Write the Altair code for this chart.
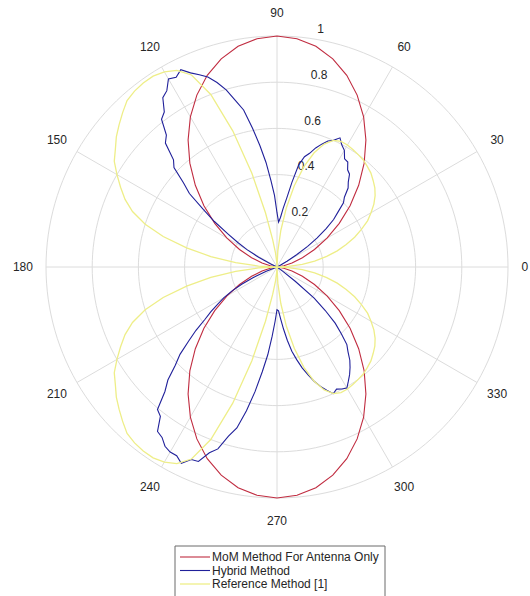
import numpy as np
import pandas as pd
import altair as alt

# ---------------- series values (angle in degrees, normalised radius) ----------------
# MoM method (antenna only): upper half 0..180 deg, lower half is its mirror image
MOM_ANGLES = list(range(0, 181, 5))
MOM_R = [0.000, 0.008, 0.030, 0.067, 0.117, 0.179, 0.250, 0.329, 0.413, 0.500,
         0.587, 0.671, 0.750, 0.821, 0.883, 0.933, 0.970, 0.992, 1.000,
         0.992, 0.970, 0.933, 0.883, 0.821, 0.750, 0.671, 0.587, 0.500,
         0.413, 0.329, 0.250, 0.179, 0.117, 0.067, 0.030, 0.008, 0.000]

# Reference method [1]: upper half 0..180 deg, mirrored for the lower half
REF_ANGLES = list(range(0, 181, 3))
REF_R = [0.000, 0.050, 0.110, 0.165, 0.220, 0.270, 0.315, 0.360, 0.400, 0.440,
         0.470, 0.500, 0.525, 0.545, 0.560, 0.575, 0.585, 0.595, 0.600, 0.605,
         0.610, 0.610, 0.600, 0.570, 0.520, 0.450, 0.360, 0.260, 0.160, 0.070,
         0.000, 0.020, 0.060, 0.120, 0.240, 0.420, 0.620, 0.800, 0.910, 0.955,
         0.975, 0.985, 0.985, 0.980, 0.970, 0.945, 0.920, 0.895, 0.865, 0.840,
         0.800, 0.760, 0.720, 0.670, 0.600, 0.510, 0.400, 0.290, 0.180, 0.080,
         0.000]

# Hybrid method: full turn, every 2 deg
HYB_ANGLES = list(range(0, 360, 2))
HYB_R = [
    # 0 .. 26
    0.000, 0.000, 0.000, 0.000, 0.000, 0.000, 0.000, 0.000, 0.000, 0.000, 0.000, 0.000, 0.000, 0.005,
    # 28 .. 88
    0.020, 0.050, 0.100, 0.160, 0.215, 0.270, 0.320, 0.355, 0.400, 0.420, 0.460, 0.480, 0.510, 0.520,
    0.548, 0.552, 0.583, 0.598, 0.622, 0.600, 0.588, 0.566, 0.542, 0.512, 0.492, 0.452, 0.372, 0.300,
    0.255, 0.215, 0.195,
    # 90 .. 154
    0.235, 0.310, 0.375, 0.455, 0.530, 0.610, 0.695, 0.742, 0.798, 0.840, 0.875, 0.898, 0.920, 0.950,
    0.930, 0.940, 0.900, 0.884, 0.830, 0.812, 0.745, 0.722, 0.645, 0.620, 0.545, 0.495, 0.405, 0.335,
    0.255, 0.200, 0.150, 0.090, 0.030,
    # 156 .. 198
    0.000, 0.000, 0.000, 0.000, 0.000, 0.000, 0.000, 0.000, 0.000, 0.000, 0.000, 0.000, 0.000, 0.000,
    0.000, 0.000, 0.000, 0.000, 0.000, 0.000, 0.000, 0.000,
    # 200 .. 270
    0.005, 0.050, 0.110, 0.170, 0.220, 0.265, 0.300, 0.345, 0.385, 0.445, 0.500, 0.565, 0.612, 0.680,
    0.725, 0.805, 0.820, 0.880, 0.890, 0.915, 0.925, 0.925, 0.945, 0.912, 0.908, 0.856, 0.828, 0.762,
    0.718, 0.636, 0.548, 0.458, 0.382, 0.300, 0.235, 0.185,
    # 272 .. 324
    0.190, 0.225, 0.270, 0.320, 0.370, 0.410, 0.450, 0.485, 0.520, 0.550, 0.575, 0.600, 0.588, 0.598,
    0.605, 0.583, 0.562, 0.538, 0.512, 0.478, 0.452, 0.400, 0.350, 0.280, 0.210, 0.100, 0.030,
    # 326 .. 358
    0.000, 0.000, 0.000, 0.000, 0.000, 0.000, 0.000, 0.000, 0.000, 0.000, 0.000, 0.000, 0.000, 0.000,
    0.000, 0.000, 0.000,
]

SERIES = ["MoM Method For Antenna Only", "Hybrid Method", "Reference Method [1]"]
COLORS = ["#c02c40", "#20209a", "#eeee88"]
WIDTHS = [1.1, 1.1, 1.3]

RINGS = [0.2, 0.4, 0.6, 0.8, 1.0]
RING_LABELS = ["0.2", "0.4", "0.6", "0.8", "1"]
THETA_TICKS = list(range(0, 360, 30))
THETA_LABELS = [str(t) for t in THETA_TICKS]

# ---------------- layout ----------------
W, H = 530, 596
CX, CY, R_PX = 277, 267, 231          # polar centre and outer radius in pixels
X_SCALE = alt.Scale(domain=[-CX / R_PX, (W - CX) / R_PX], nice=False, zero=False)
Y_SCALE = alt.Scale(domain=[-(H - CY) / R_PX, CY / R_PX], nice=False, zero=False)
FONT = "Liberation Sans"
TEXT_COLOR = "#262626"
GRID_COLOR = "#dcdcdc"


def mirrored(angles, radii):
    """Upper half 0..180 plus its mirror image 180..360."""
    a = list(angles) + [360 - v for v in reversed(angles[:-1])]
    r = list(radii) + list(reversed(radii[:-1]))
    return a, r


def polar_frame(angles, radii, name):
    t = np.deg2rad(np.asarray(angles, dtype=float))
    r = np.asarray(radii, dtype=float)
    return pd.DataFrame({"series": name, "idx": np.arange(len(r)),
                         "x": r * np.cos(t), "y": r * np.sin(t)})


def xy(field_x="x", field_y="y"):
    return dict(x=alt.X(f"{field_x}:Q", scale=X_SCALE, axis=None),
                y=alt.Y(f"{field_y}:Q", scale=Y_SCALE, axis=None))


# ---------------- grid ----------------
ring_t = np.deg2rad(np.arange(0, 361, 2))
ring_df = pd.concat([
    pd.DataFrame({"ring": rv, "idx": np.arange(len(ring_t)),
                  "x": rv * np.cos(ring_t), "y": rv * np.sin(ring_t)})
    for rv in RINGS
])
rings = alt.Chart(ring_df).mark_line(stroke=GRID_COLOR, strokeWidth=1).encode(
    **xy(), detail="ring:N", order="idx:Q")

spoke_t = np.deg2rad(THETA_TICKS)
spoke_df = pd.DataFrame({"x0": 0.0, "y0": 0.0,
                         "x1": np.cos(spoke_t), "y1": np.sin(spoke_t)})
spokes = alt.Chart(spoke_df).mark_rule(stroke=GRID_COLOR, strokeWidth=1).encode(
    x=alt.X("x0:Q", scale=X_SCALE, axis=None), y=alt.Y("y0:Q", scale=Y_SCALE, axis=None),
    x2="x1:Q", y2="y1:Q")

# angle labels sit just outside the outer ring; the 0 label is kept inside the canvas edge
theta_df = pd.DataFrame({"label": THETA_LABELS,
                         "x": 1.10 * np.cos(spoke_t), "y": 1.10 * np.sin(spoke_t),
                         "align": ["right"] + ["center"] * (len(THETA_TICKS) - 1)})
theta_center = alt.Chart(theta_df[theta_df["align"] == "center"]).mark_text(
    font=FONT, fontSize=12, color=TEXT_COLOR, align="center", baseline="middle").encode(
    **xy(), text="label:N")
theta_edge = alt.Chart(theta_df[theta_df["align"] == "right"]).mark_text(
    font=FONT, fontSize=12, color=TEXT_COLOR, align="right", baseline="middle", dx=-3).encode(
    **xy(), text="label:N")

r_ang = np.deg2rad(82)
rlab_df = pd.DataFrame({"label": RING_LABELS,
                        "x": np.array(RINGS) * np.cos(r_ang),
                        "y": np.array(RINGS) * np.sin(r_ang)})
r_text = alt.Chart(rlab_df).mark_text(
    font=FONT, fontSize=12, color=TEXT_COLOR, align="left", baseline="middle",
    dx=8, dy=-9).encode(**xy(), text="label:N")

# ---------------- curves ----------------
mom_a, mom_r = mirrored(MOM_ANGLES, MOM_R)
ref_a, ref_r = mirrored(REF_ANGLES, REF_R)
hyb_a = HYB_ANGLES + [360]
hyb_r = HYB_R + [HYB_R[0]]

curve_frames = [polar_frame(mom_a, mom_r, SERIES[0]),
                polar_frame(hyb_a, hyb_r, SERIES[1]),
                polar_frame(ref_a, ref_r, SERIES[2])]
curves = [
    alt.Chart(df).mark_line(stroke=col, strokeWidth=sw).encode(**xy(), order="idx:Q")
    for df, col, sw in zip(curve_frames, COLORS, WIDTHS)
]

# ---------------- legend ----------------
one = pd.DataFrame({"k": [0]})
legend_box = alt.Chart(one).mark_rect(fill="white", stroke="#6a6a6a", strokeWidth=1).encode(
    x=alt.value(175), x2=alt.value(385), y=alt.value(546), y2=alt.value(602))
legend_parts = [legend_box]
for i, (name, col, sw) in enumerate(zip(SERIES, COLORS, WIDTHS)):
    row_y = 557 + i * 13.5
    legend_parts.append(alt.Chart(one).mark_rule(stroke=col, strokeWidth=sw).encode(
        x=alt.value(180), x2=alt.value(210), y=alt.value(row_y)))
    legend_parts.append(alt.Chart(one).mark_text(
        font=FONT, fontSize=12, color=TEXT_COLOR, align="left", baseline="middle").encode(
        x=alt.value(212), y=alt.value(row_y), text=alt.value(name)))

chart = alt.layer(rings, spokes, theta_center, theta_edge, r_text, *curves, *legend_parts).properties(
    width=W, height=H, padding=0, autosize="none", background="white"
).configure_view(stroke=None)

chart.save("out.html", embed_options={"renderer": "svg", "actions": False})
